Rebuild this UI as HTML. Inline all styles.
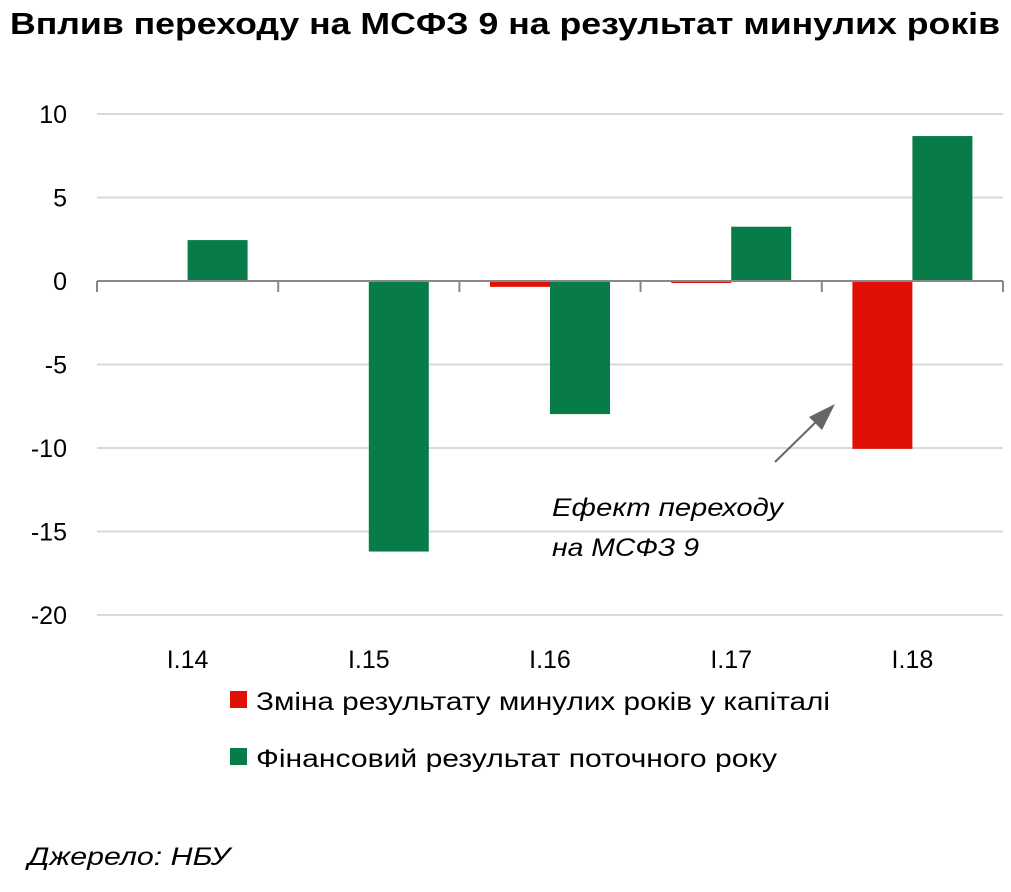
<!DOCTYPE html>
<html><head><meta charset="utf-8"><style>
body{margin:0;background:#fff;width:1011px;height:887px;overflow:hidden;font-family:"Liberation Sans",sans-serif}
</style></head><body>
<svg width="1011" height="887" id="chart">
<text x="10" y="34" font-size="31" font-weight="bold" fill="#000" textLength="990" lengthAdjust="spacingAndGlyphs">Вплив переходу на МСФЗ 9 на результат минулих років</text>
<g id="grid"></g><g id="bars"></g><g id="axis"></g>
<text x="552" y="516" font-size="25" font-style="italic" textLength="231" lengthAdjust="spacingAndGlyphs">Ефект переходу</text>
<text x="552" y="556" font-size="25" font-style="italic" textLength="147" lengthAdjust="spacingAndGlyphs">на МСФЗ 9</text>
<line x1="775" y1="462" x2="820" y2="418" stroke="#666" stroke-width="2"/>
<polygon points="835,404 809,417 822,430" fill="#666"/>
<rect x="230" y="691" width="17" height="17" fill="#e01006"/>
<text x="256" y="710" font-size="25" textLength="574" lengthAdjust="spacingAndGlyphs">Зміна результату минулих років у капіталі</text>
<rect x="230" y="748" width="17" height="17" fill="#077c48"/>
<text x="256" y="767" font-size="25" textLength="521" lengthAdjust="spacingAndGlyphs">Фінансовий результат поточного року</text>
<text x="28" y="865" font-size="25" font-style="italic" textLength="202" lengthAdjust="spacingAndGlyphs">Джерело: НБУ</text>
</svg>
<script>
const categories=["I.14","I.15","I.16","I.17","I.18"];
const capitalChange=[-0.05,0,-0.35,-0.12,-10.05];
const currentProfit=[2.45,-16.2,-7.97,3.25,8.68];
const yTicks=[10,5,0,-5,-10,-15,-20];
const NS="http://www.w3.org/2000/svg";
const L=97,R=1003;
const y=v=>281-v*16.7;
const bw=(R-L)/categories.length;
const x=i=>L+i*bw;
function mk(t,a,p){const e=document.createElementNS(NS,t);for(const k in a)e.setAttribute(k,a[k]);document.getElementById(p).appendChild(e);return e;}
yTicks.forEach(v=>{
 if(v!==0){const g=mk("line",{x1:L,x2:R,y1:y(v),y2:y(v),stroke:"#d9d9d9","stroke-width":2},"grid");
 
 }
 const t=mk("text",{x:67,y:y(v)+9,"text-anchor":"end","font-size":25},"axis");
 t.textContent=v;
 
 
});
const ax=mk("line",{x1:L,x2:R,y1:y(0),y2:y(0),stroke:"#888","stroke-width":2},"axis");


for(let i=0;i<=categories.length;i++){
 const tk=mk("line",{x1:x(i),x2:x(i),y1:y(0),y2:y(0)+11,stroke:"#888","stroke-width":2},"axis");
 
 
}
categories.forEach((c,i)=>{
 const cx=x(i)+bw/2;
 const t=mk("text",{x:cx,y:668,"text-anchor":"middle","font-size":25},"axis");
 t.textContent=c;
 
 
 [[capitalChange[i],"#e01006",-60,"bar-capital"],[currentProfit[i],"#077c48",0,"bar-profit"]].forEach(([v,col,off,nm])=>{
  const y0=Math.min(y(0),y(v)),h=Math.abs(y(v)-y(0));
  const r=mk("rect",{x:cx+off,y:y0,width:60,height:Math.max(h,0),fill:col},"bars");
  
  
 });
});
</script>
</body></html>
